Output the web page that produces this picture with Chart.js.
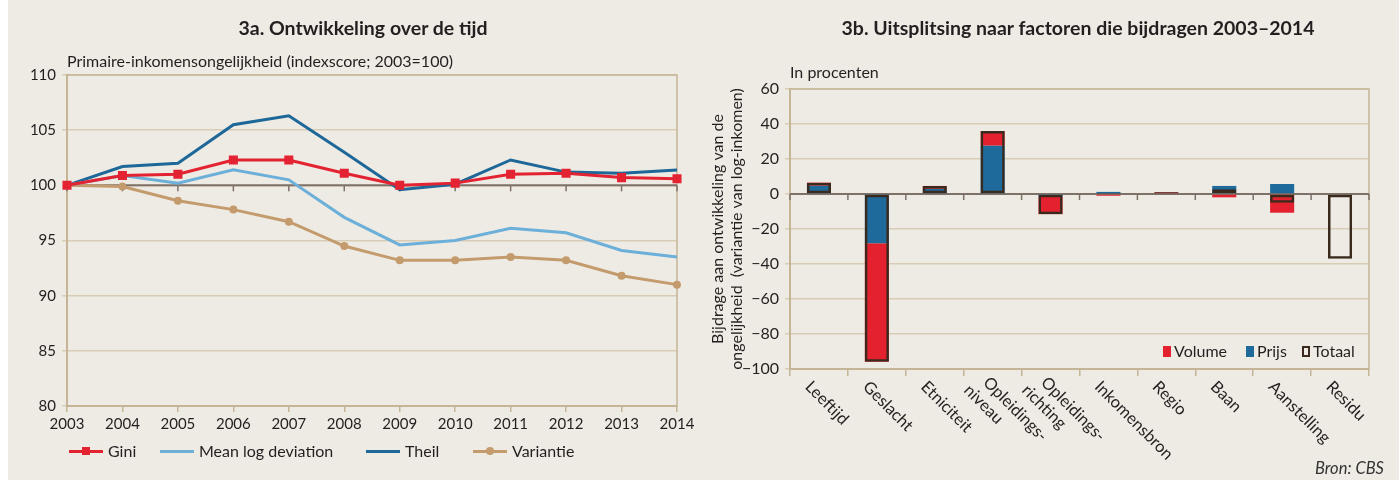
<!DOCTYPE html>
<html>
<head>
<meta charset="utf-8">
<script src="https://cdn.jsdelivr.net/npm/chart.js@4.4.1/dist/chart.umd.min.js"></script>
<style>
  body { margin: 0; background: #fff; font-family: Lato, "Open Sans", sans-serif; color: #231f20; }
  #panel { position: absolute; left: 8px; top: 0; width: 1391px; height: 480px; background: #eeebe4; }
  canvas { position: absolute; top: 0; }
  .title { position: absolute; top: 16px; font-weight: bold; font-size: 19.5px; line-height: 24px; white-space: nowrap; transform: translateX(-50%); }
  .note { position: absolute; font-size: 16px; line-height: 18px; white-space: nowrap; }
  .leg { position: absolute; font-size: 16px; line-height: 18px; white-space: nowrap; display: flex; align-items: center; }
  .sw { position: relative; width: 34px; height: 18px; margin-right: 5px; }
  .sw .ln { position: absolute; left: 0; right: 0; top: 7.5px; height: 3px; }
  .sw .mk { position: absolute; left: 13px; top: 5px; width: 8px; height: 8px; }
  .box { display: inline-block; width: 8px; height: 11px; margin-right: 3px; box-sizing: border-box; }
</style>
</head>
<body>
<div id="panel"></div>
<canvas id="left" width="700" height="480" style="left:0"></canvas>
<canvas id="right" width="699" height="480" style="left:700px"></canvas>

<div class="title" style="left:363px">3a. Ontwikkeling over de tijd</div>
<div class="title" style="left:1078px">3b. Uitsplitsing naar factoren die bijdragen 2003–2014</div>
<div class="note" style="left:67px; top:52px">Primaire-inkomensongelijkheid (indexscore; 2003=100)</div>
<div class="note" style="left:790px; top:63px">In procenten</div>
<div class="note" style="right:15px; top:459px; font-style:italic; font-size:16.5px; color:#333">Bron: CBS</div>

<div class="leg" style="left:69px; top:442px"><div class="sw"><div class="ln" style="background:#e42332"></div><div class="mk" style="background:#e42332"></div></div>Gini</div>
<div class="leg" style="left:160px; top:442px"><div class="sw"><div class="ln" style="background:#6cb0da"></div></div>Mean log deviation</div>
<div class="leg" style="left:366px; top:442px"><div class="sw"><div class="ln" style="background:#1e6899"></div></div>Theil</div>
<div class="leg" style="left:473px; top:442px"><div class="sw"><div class="ln" style="background:#c49b6d"></div><div class="mk" style="background:#c49b6d; border-radius:50%"></div></div>Variantie</div>

<div class="leg" style="left:1163px; top:342px"><span class="box" style="background:#e4222f"></span>Volume</div>
<div class="leg" style="left:1246px; top:342px"><span class="box" style="background:#1d6a9b"></span>Prijs</div>
<div class="leg" style="left:1302px; top:342px"><span class="box" style="border:2px solid #3a2a1e"></span>Totaal</div>

<script>
// 3a: index 2003=100
const years = ['2003','2004','2005','2006','2007','2008','2009','2010','2011','2012','2013','2014'];
const gini       = [100, 100.9, 101.0, 102.3, 102.3, 101.1, 100.0, 100.2, 101.0, 101.1, 100.7, 100.6];
const meanLogDev = [100, 100.9, 100.2, 101.4, 100.5,  97.1,  94.6,  95.0,  96.1,  95.7,  94.1,  93.5];
const theil      = [100, 101.7, 102.0, 105.5, 106.3, 103.0,  99.6, 100.1, 102.3, 101.2, 101.1, 101.4];
const variantie  = [100,  99.9,  98.6,  97.8,  96.7,  94.5,  93.2,  93.2,  93.5,  93.2,  91.8,  91.0];

// 3b: bijdragen 2003-2014 (procenten)
const factors = ['Leeftijd', 'Geslacht', 'Etniciteit', ['Opleidings-', 'niveau'], ['Opleidings-', 'richting'],
                 'Inkomensbron', 'Regio', 'Baan', 'Aanstelling', 'Residu'];
const volume = [1.8, -67.6, 1.7, 8.4, -9.8, -1.0, 0.5, -1.9, -10.7, 0];
const prijs  = [4.7, -28.2, 2.9, 27.6, -1.7, 1.2, 0.5, 4.6, 5.7, 0];
const totaal = [6.5, -95.8, 4.6, 36.0, -11.5, 0.2, 1.0, 2.7, -5.0, -37.0];

const tan = '#d8ccb5';
const axisTan = '#c5b597';
const baseGrey = '#7d7168';

Chart.defaults.font.family = 'Lato';
Chart.defaults.color = '#231f20';

// dark reference line (100 / 0) with little ticks hanging under it
const baseLine = {
    id: 'baseLine',
    beforeDatasetsDraw(chart, args, opts) {
        const { ctx, chartArea, scales } = chart;
        const y = scales.y.getPixelForValue(opts.value);
        ctx.save();
        ctx.strokeStyle = axisTan;
        ctx.lineWidth = 1.5;
        ctx.strokeRect(chartArea.left, chartArea.top, chartArea.right - chartArea.left, chartArea.bottom - chartArea.top);
        ctx.strokeStyle = baseGrey;
        ctx.lineWidth = 2;
        ctx.beginPath();
        ctx.moveTo(chartArea.left, y);
        ctx.lineTo(chartArea.right, y);
        ctx.stroke();
        ctx.lineWidth = 1.5;
        const n = chart.data.labels.length;
        for (let i = 0; i <= n; i++) {
            const v = opts.between ? i - 0.5 : i;
            if (!opts.between && i == n) break;
            const x = scales.x.getPixelForValue(v);
            ctx.beginPath();
            ctx.moveTo(x, y);
            ctx.lineTo(x, y + 6);
            ctx.stroke();
        }
        ctx.restore();
    }
};

// slanted category labels, reading down to the right
const slantLabels = {
    id: 'slantLabels',
    afterDraw(chart) {
        const { ctx, chartArea, scales } = chart;
        ctx.save();
        ctx.font = '16.5px Lato';
        ctx.fillStyle = '#231f20';
        ctx.textAlign = 'left';
        ctx.textBaseline = 'middle';
        chart.data.labels.forEach((lab, i) => {
            const x = scales.x.getPixelForValue(i);
            ctx.save();
            ctx.translate(x - 11, chartArea.bottom + 15);
            ctx.rotate(45 * Math.PI / 180);
            if (Array.isArray(lab)) {
                ctx.fillText(lab[0], 0, -6);
                ctx.fillText(lab[1], -8, 13);
            } else {
                ctx.fillText(lab, 0, 0);
            }
            ctx.restore();
        });
        ctx.restore();
    }
};

new Chart(document.getElementById('left'), {
    type: 'line',
    data: {
        labels: years,
        datasets: [
            { label: 'Gini', data: gini, borderColor: '#e42332', backgroundColor: '#e42332', borderWidth: 3,
              pointStyle: 'rect', pointRadius: 6.4, pointBorderWidth: 0 },
            { label: 'Mean log deviation', data: meanLogDev, borderColor: '#6cb0da', borderWidth: 3, pointRadius: 0 },
            { label: 'Theil', data: theil, borderColor: '#1e6899', borderWidth: 3, pointRadius: 0 },
            { label: 'Variantie', data: variantie, borderColor: '#c49b6d', backgroundColor: '#c49b6d', borderWidth: 3,
              pointStyle: 'circle', pointRadius: 4, pointBorderWidth: 0 }
        ]
    },
    options: {
        responsive: false,
        animation: false,
        layout: { padding: { left: 10, right: 23, top: 75, bottom: 44 } },
        plugins: { legend: { display: false }, tooltip: { enabled: false }, baseLine: { value: 100 } },
        scales: {
            x: {
                grid: { drawOnChartArea: false, tickLength: 6, color: axisTan, lineWidth: 1.5 },
                border: { color: axisTan, width: 2 },
                ticks: { font: { size: 15 }, padding: 3, maxRotation: 0, autoSkip: false },
                afterFit(s) { s.height = 30; }
            },
            y: {
                min: 80, max: 110,
                ticks: { stepSize: 5, font: { size: 15 }, padding: 6 },
                grid: { color: tan, lineWidth: 1.5, tickLength: 5 },
                border: { color: axisTan, width: 2 },
                afterFit(s) { s.width = 57; }
            }
        }
    },
    plugins: [baseLine]
});

new Chart(document.getElementById('right'), {
    type: 'bar',
    data: {
        labels: factors,
        datasets: [
            { label: 'Volume', data: volume, backgroundColor: '#e4222f', stack: 'parts', order: 2 },
            { label: 'Prijs', data: prijs, backgroundColor: '#1d6a9b', stack: 'parts', order: 1 },
            { label: 'Totaal', data: totaal, backgroundColor: 'rgba(0,0,0,0)', borderColor: '#3a2a1e',
              borderWidth: 2.5, borderSkipped: false, stack: 'total', order: 0 }
        ]
    },
    options: {
        responsive: false,
        animation: false,
        grouped: false,
        barPercentage: 0.52,
        categoryPercentage: 0.8,
        layout: { padding: { left: 6, right: 30, top: 89, bottom: 101 } },
        plugins: { legend: { display: false }, tooltip: { enabled: false }, baseLine: { value: 0, between: true } },
        scales: {
            x: {
                grid: { offset: true, drawOnChartArea: false, tickLength: 7, color: axisTan, lineWidth: 1.5 },
                border: { color: axisTan, width: 2 },
                ticks: { display: false },
                afterFit(s) { s.height = 10; }
            },
            y: {
                stacked: true,
                min: -100, max: 60,
                ticks: { stepSize: 20, font: { size: 16 }, padding: 6,
                         callback: (v) => String(v).replace('-', '\u2212') },
                grid: { color: tan, lineWidth: 1.5, tickLength: 5 },
                border: { color: axisTan, width: 2 },
                title: { display: true, text: ['Bijdrage aan ontwikkeling van de', 'ongelijkheid  (variantie van log-inkomen)'],
                         font: { size: 16, lineHeight: 1.2 }, padding: { top: 2, bottom: 0 } },
                afterFit(s) { s.width = 84; }
            }
        }
    },
    plugins: [baseLine, slantLabels]
});
</script>
</body>
</html>
